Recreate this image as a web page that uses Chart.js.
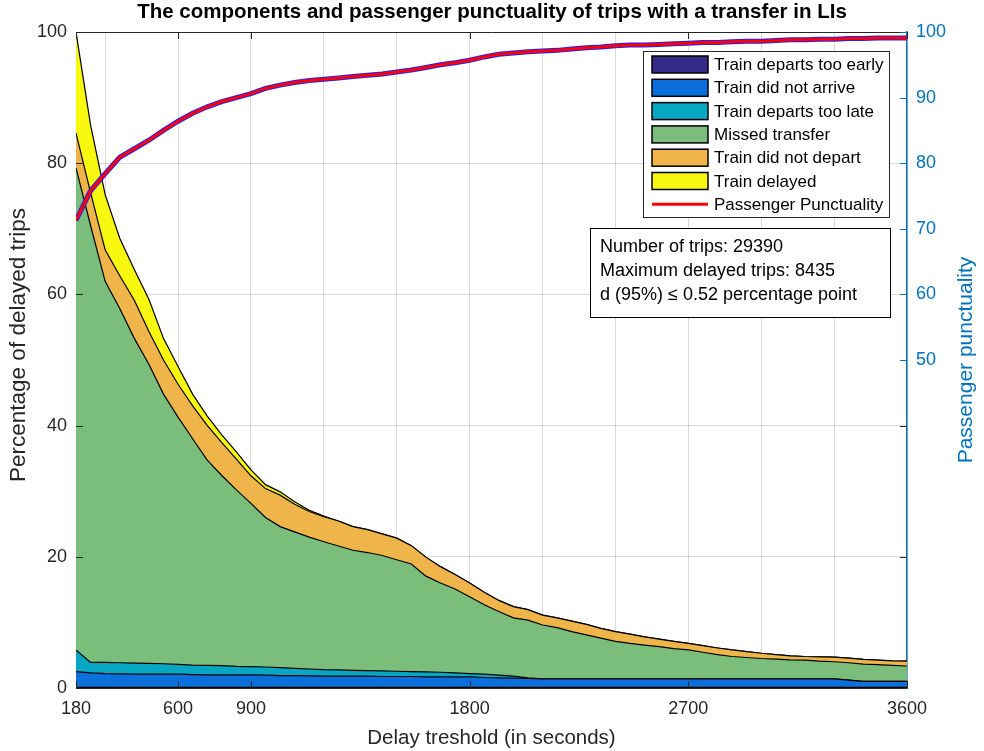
<!DOCTYPE html>
<html>
<head>
<meta charset="utf-8">
<title>Passenger punctuality of transfer trips</title>
<script src="https://cdn.jsdelivr.net/npm/chart.js@4.4.1/dist/chart.umd.min.js"></script>
<style>
  body { margin: 0; background: #fff; }
  canvas { display: block; }
</style>
</head>
<body>
<canvas id="delayChart" width="984" height="751"></canvas>
<script>
// delay threshold in seconds (x values)
const delayThresholds = [
  180, 240, 300, 360, 420, 480, 540, 600, 660, 720,
  780, 840, 900, 960, 1020, 1080, 1140, 1200, 1260, 1320,
  1380, 1440, 1500, 1560, 1620, 1680, 1740, 1800, 1860, 1920,
  1980, 2040, 2100, 2160, 2220, 2280, 2340, 2400, 2460, 2520,
  2580, 2640, 2700, 2760, 2820, 2880, 2940, 3000, 3060, 3120,
  3180, 3240, 3300, 3360, 3420, 3480, 3540, 3600
];

// components, % of trips (stacked, bottom to top)
const trainDepartsTooEarly = [
  0.1, 0.1, 0.1, 0.1, 0.1, 0.1, 0.1, 0.1, 0.1, 0.1,
  0.1, 0.1, 0.1, 0.1, 0.1, 0.1, 0.1, 0.1, 0.1, 0.1,
  0.1, 0.1, 0.1, 0.1, 0.1, 0.1, 0.1, 0.1, 0.1, 0.1,
  0.1, 0.1, 0.1, 0.1, 0.1, 0.1, 0.1, 0.1, 0.1, 0.1,
  0.1, 0.1, 0.1, 0.1, 0.1, 0.1, 0.1, 0.1, 0.1, 0.1,
  0.1, 0.1, 0.1, 0.1, 0.1, 0.1, 0.1, 0.1
];
const trainDidNotArrive = [
  2.4, 2.2, 2.1, 2.05, 2.0, 2.0, 2.0, 2.0, 1.95, 1.9,
  1.9, 1.9, 1.9, 1.85, 1.8, 1.8, 1.75, 1.7, 1.7, 1.7,
  1.7, 1.65, 1.65, 1.65, 1.6, 1.6, 1.6, 1.6, 1.5, 1.45,
  1.4, 1.35, 1.3, 1.3, 1.3, 1.3, 1.3, 1.3, 1.3, 1.3,
  1.3, 1.3, 1.3, 1.3, 1.3, 1.3, 1.3, 1.3, 1.3, 1.3,
  1.3, 1.3, 1.3, 1.1, 0.9, 0.9, 0.9, 0.9
];
const trainDepartsTooLate = [
  3.3, 1.6, 1.7, 1.7, 1.7, 1.65, 1.6, 1.5, 1.45, 1.45,
  1.4, 1.3, 1.25, 1.25, 1.2, 1.1, 1.05, 1.0, 0.95, 0.9,
  0.85, 0.85, 0.8, 0.75, 0.75, 0.7, 0.6, 0.5, 0.5, 0.4,
  0.3, 0.1, 0, 0, 0, 0, 0, 0, 0, 0,
  0, 0, 0, 0, 0, 0, 0, 0, 0, 0,
  0, 0, 0, 0, 0, 0, 0, 0
];
const missedTransfer = [
  73.5, 66.6, 58.1, 54.0, 49.5, 45.6, 41.1, 37.7, 34.5, 31.3,
  29.0, 26.9, 24.9, 22.8, 21.5, 20.8, 20.1, 19.5, 18.9, 18.3,
  18.0, 17.6, 17.0, 16.4, 14.6, 13.6, 12.8, 11.7, 10.6, 9.7,
  8.9, 8.8, 8.2, 7.8, 7.2, 6.7, 6.2, 5.7, 5.4, 5.15,
  4.9, 4.6, 4.4, 4.05, 3.7, 3.4, 3.25, 3.1, 3.0, 2.9,
  2.85, 2.7, 2.6, 2.65, 2.65, 2.55, 2.45, 2.35
];
const trainDidNotDepart = [
  5.3, 5.0, 4.8, 5.0, 5.8, 5.0, 5.2, 5.0, 5.0, 5.3,
  5.0, 4.7, 4.2, 4.4, 4.8, 4.2, 3.9, 3.8, 3.8, 3.6,
  3.5, 3.3, 3.3, 2.8, 2.9, 2.5, 2.2, 2.1, 1.9, 1.7,
  1.7, 1.6, 1.5, 1.5, 1.6, 1.6, 1.5, 1.5, 1.4, 1.25,
  1.15, 1.1, 1.0, 1.0, 1.0, 1.0, 0.9, 0.8, 0.7, 0.6,
  0.55, 0.65, 0.7, 0.7, 0.7, 0.7, 0.7, 0.75
];
const trainDelayed = [
  15.4, 10.3, 8.4, 5.7, 4.7, 4.9, 3.3, 2.7, 1.8, 1.4,
  1.2, 1.1, 0.9, 0.6, 0.5, 0.4, 0.2, 0.1, 0, 0,
  0, 0, 0, 0, 0, 0, 0, 0, 0, 0,
  0, 0, 0, 0, 0, 0, 0, 0, 0, 0,
  0, 0, 0, 0, 0, 0, 0, 0, 0, 0,
  0, 0, 0, 0, 0, 0, 0, 0
];

// passenger punctuality, % (right axis)
const passengerPunctuality = [
  71.3, 75.8, 78.4, 80.9, 82.2, 83.5, 85.0, 86.4, 87.6, 88.6,
  89.4, 90.0, 90.6, 91.4, 91.9, 92.3, 92.6, 92.8, 93.0, 93.2,
  93.4, 93.6, 93.9, 94.2, 94.6, 95.0, 95.3, 95.7, 96.2, 96.6,
  96.8, 97.0, 97.1, 97.2, 97.4, 97.6, 97.7, 97.9, 98.0, 98.0,
  98.1, 98.2, 98.3, 98.4, 98.4, 98.5, 98.6, 98.6, 98.7, 98.8,
  98.8, 98.9, 98.9, 99.0, 99.0, 99.1, 99.1, 99.1
];

const xGridValues = [180, 300, 600, 900, 1200, 1500, 1800, 2100, 2400, 2700, 3000, 3300, 3600];
const xTickLabels = [180, 600, 900, 1800, 2700, 3600];
const rightTickValues = [50, 60, 70, 80, 90, 100];
const noteLines = [
  'Number of trips: 29390',
  'Maximum delayed trips: 8435',
  'd (95%) \u2264 0.52 percentage point'
];

const FONT = "'Liberation Sans', Arial, Helvetica, sans-serif";
const INK = '#262626';
const AXIS_BLUE = '#0072BD';
const GRID = 'rgba(0, 0, 0, 0.15)';

function points(values) {
  return delayThresholds.map((s, i) => ({ x: s, y: values[i] }));
}

function area(label, values, color, fill) {
  return {
    label: label,
    data: points(values),
    yAxisID: 'y',
    backgroundColor: color,
    borderColor: '#000',
    borderWidth: 1.2,
    fill: fill,
    pointRadius: 0,
    tension: 0,
    order: 2,
    swatch: 'box'
  };
}

function verticalText(ctx, text, x, y, color, size) {
  ctx.save();
  ctx.translate(x, y);
  ctx.rotate(-Math.PI / 2);
  ctx.fillStyle = color;
  ctx.font = size + 'px ' + FONT;
  ctx.textAlign = 'center';
  ctx.textBaseline = 'middle';
  ctx.fillText(text, 0, 0);
  ctx.restore();
}

// legend + note box (drawn under the grid like in matlab), inward ticks on top
const matlabFrame = {
  id: 'matlabFrame',
  beforeDatasetsDraw(chart) {
    const ctx = chart.ctx;
    const ca = chart.chartArea;
    const entries = chart.data.datasets.filter(d => d.swatch);

    // legend
    const lx = ca.right - 264, ly = ca.top + 19;
    ctx.save();
    ctx.fillStyle = '#fff';
    ctx.fillRect(lx, ly, 246, 166);
    ctx.strokeStyle = INK;
    ctx.lineWidth = 1;
    ctx.strokeRect(lx + 0.5, ly + 0.5, 246, 166);
    ctx.font = '17px ' + FONT;
    ctx.textBaseline = 'middle';
    entries.forEach((d, i) => {
      const top = ly + 5 + i * 23.3;
      const cy = top + 8.5;
      if (d.swatch === 'box') {
        ctx.fillStyle = d.backgroundColor;
        ctx.fillRect(lx + 9, top, 56, 17);
        ctx.strokeStyle = '#000';
        ctx.lineWidth = 1.5;
        ctx.strokeRect(lx + 9, top, 56, 17);
      } else {
        ctx.strokeStyle = d.borderColor;
        ctx.lineWidth = 3;
        ctx.beginPath();
        ctx.moveTo(lx + 9, cy);
        ctx.lineTo(lx + 65, cy);
        ctx.stroke();
      }
      ctx.fillStyle = '#000';
      ctx.fillText(d.label, lx + 71, cy + 1);
    });

    // note box
    const bx = ca.right - 317, by = ca.top + 196;
    ctx.fillStyle = '#fff';
    ctx.fillRect(bx, by, 300, 89);
    ctx.strokeStyle = '#000';
    ctx.lineWidth = 1;
    ctx.strokeRect(bx + 0.5, by + 0.5, 300, 89);
    ctx.fillStyle = '#000';
    ctx.font = '18px ' + FONT;
    noteLines.forEach((t, i) => ctx.fillText(t, bx + 10, by + 19 + i * 24.2));
    ctx.restore();
  },
  afterDraw(chart) {
    const ctx = chart.ctx;
    const ca = chart.chartArea;
    const xs = chart.scales.x, ys = chart.scales.y, y2 = chart.scales.y2;
    ctx.save();
    ctx.lineWidth = 1;
    ctx.strokeStyle = INK;
    ctx.beginPath();
    ctx.moveTo(ca.left, ca.top + 0.5);
    ctx.lineTo(ca.right, ca.top + 0.5);
    xTickLabels.forEach(v => {
      const px = Math.round(xs.getPixelForValue(v)) + 0.5;
      ctx.moveTo(px, ca.bottom); ctx.lineTo(px, ca.bottom - 7);
      ctx.moveTo(px, ca.top); ctx.lineTo(px, ca.top + 7);
    });
    ys.ticks.forEach(t => {
      const py = Math.round(ys.getPixelForValue(t.value)) + 0.5;
      ctx.moveTo(ca.left, py); ctx.lineTo(ca.left + 7, py);
      if (t.value > 0 && t.value < 50) { ctx.moveTo(ca.right, py); ctx.lineTo(ca.right - 7, py); }
    });
    ctx.stroke();
    ctx.strokeStyle = AXIS_BLUE;
    ctx.beginPath();
    rightTickValues.forEach(v => {
      const py = Math.round(y2.getPixelForValue(v)) + 0.5;
      ctx.moveTo(ca.right, py); ctx.lineTo(ca.right - 7, py);
    });
    ctx.stroke();
    ctx.restore();

    // axis titles, both reading bottom to top
    verticalText(ctx, 'Percentage of delayed trips', 19, (ca.top + ca.bottom) / 2 - 15, INK, 22.5);
    verticalText(ctx, 'Passenger punctuality', 966, (ca.top + ca.bottom) / 2, AXIS_BLUE, 21);
  }
};

new Chart(document.getElementById('delayChart'), {
  type: 'line',
  data: {
    datasets: [
      area('Train departs too early', trainDepartsTooEarly, '#352A87', 'origin'),
      area('Train did not arrive', trainDidNotArrive, '#0C70DC', '-1'),
      area('Train departs too late', trainDepartsTooLate, '#07A6C3', '-1'),
      area('Missed transfer', missedTransfer, '#7BBE7B', '-1'),
      area('Train did not depart', trainDidNotDepart, '#EFB54B', '-1'),
      area('Train delayed', trainDelayed, '#F7F70F', '-1'),
      {
        label: 'Passenger Punctuality',
        data: points(passengerPunctuality),
        yAxisID: 'y2',
        borderColor: '#ff0000',
        borderWidth: 3,
        fill: false,
        pointRadius: 0,
        order: 0,
        swatch: 'line'
      },
      {
        label: 'outline',
        data: points(passengerPunctuality),
        yAxisID: 'y2',
        borderColor: '#2020ff',
        borderWidth: 5,
        fill: false,
        pointRadius: 0,
        order: 1
      }
    ]
  },
  options: {
    responsive: false,
    animation: false,
    layout: { padding: 0 },
    plugins: {
      legend: { display: false },
      tooltip: { enabled: false },
      title: {
        display: true,
        text: 'The components and passenger punctuality of trips with a transfer in LIs',
        color: '#000',
        font: { family: FONT, size: 20.5, weight: 'bold' },
        padding: { top: 0, bottom: 7.4 }
      }
    },
    scales: {
      x: {
        type: 'linear',
        min: 180,
        max: 3600,
        z: 1,
        afterBuildTicks: s => { s.ticks = xGridValues.map(v => ({ value: v })); },
        ticks: {
          autoSkip: false,
          maxRotation: 0,
          padding: 10,
          color: INK,
          font: { family: FONT, size: 18 },
          callback: v => xTickLabels.includes(v) ? String(v) : ''
        },
        grid: { color: GRID, drawTicks: false },
        border: { color: INK, width: 1 },
        title: {
          display: true,
          text: 'Delay treshold (in seconds)',
          color: INK,
          font: { family: FONT, size: 20.5 },
          padding: { top: 2, bottom: 0 }
        },
        afterFit: s => { s.height = 63; }
      },
      y: {
        stacked: true,
        position: 'left',
        min: 0,
        max: 100,
        z: 1,
        ticks: { stepSize: 20, padding: 9, color: INK, font: { family: FONT, size: 18 } },
        grid: { color: GRID, drawTicks: false },
        border: { color: INK, width: 1 },
        title: { display: false },
        afterFit: s => { s.width = 76; }
      },
      y2: {
        position: 'right',
        min: 0,
        max: 100,
        z: 1,
        afterBuildTicks: s => { s.ticks = rightTickValues.map(v => ({ value: v })); },
        ticks: { padding: 9, color: AXIS_BLUE, font: { family: FONT, size: 18 } },
        grid: { drawOnChartArea: false, drawTicks: false },
        border: { color: AXIS_BLUE, width: 1.5 },
        title: { display: false },
        afterFit: s => { s.width = 77; }
      }
    }
  },
  plugins: [matlabFrame]
});
</script>
</body>
</html>
